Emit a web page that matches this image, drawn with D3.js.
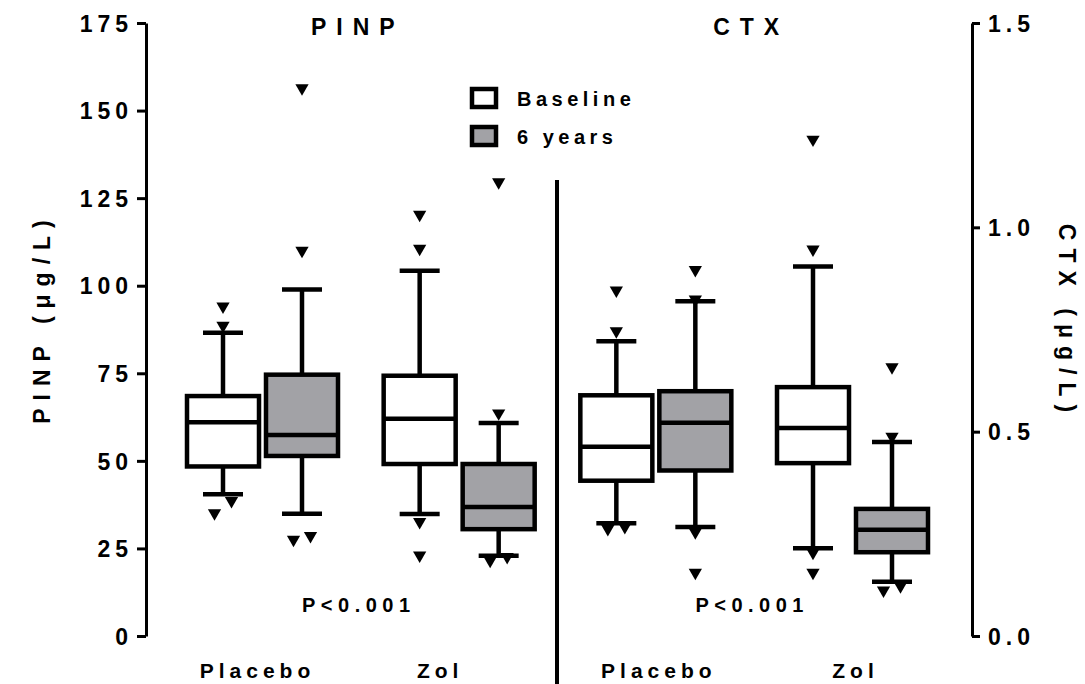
<!DOCTYPE html>
<html>
<head>
<meta charset="utf-8">
<script src="https://cdn.jsdelivr.net/npm/d3@7"></script>
<style>
  body { margin: 0; background: #fff; }
  text { font-family: "Liberation Sans", Arial, sans-serif; font-weight: bold; fill: #000; }
</style>
</head>
<body>
<div id="drawing"></div>
<script>
const width = 1085;
const height = 684;

const panels = ["PINP", "CTX"];
const groups = ["Placebo", "Zol"];
const timepoints = ["Baseline", "6 years"];

// each row: [low whisker, q1, median, q3, high whisker]
// row order: Placebo-Baseline, Placebo-6 years, Zol-Baseline, Zol-6 years
const pinpBoxes = [
  [40.5, 48.4, 61.0, 68.5, 86.6],
  [34.9, 51.4, 57.4, 74.6, 98.9],
  [34.8, 49.1, 62.0, 74.3, 104.3],
  [22.9, 30.5, 36.8, 49.1, 60.8]
];
const pinpOutliers = [
  [94.1, 88.6, 38.6, 35.1],
  [156.4, 110.0, 28.6, 27.5],
  [120.3, 110.6, 32.6, 23.0],
  [129.6, 63.6, 22.6, 21.5]
];
const ctxBoxes = [
  [0.276, 0.380, 0.463, 0.589, 0.721],
  [0.267, 0.405, 0.522, 0.599, 0.819],
  [0.215, 0.423, 0.509, 0.609, 0.904],
  [0.133, 0.205, 0.260, 0.311, 0.475]
];
const ctxOutliers = [
  [0.846, 0.746, 0.267, 0.262],
  [0.896, 0.824, 0.254, 0.155],
  [1.215, 0.946, 0.204, 0.155],
  [0.658, 0.488, 0.122, 0.112]
];

const pinpTicks = [0, 25, 50, 75, 100, 125, 150, 175];
const ctxTicks = [0, 0.5, 1.0, 1.5];
const pLabels = ["P<0.001", "P<0.001"];
const axisTitles = ["PINP (\u03bcg/L)", "CTX (\u03bcg/L)"];

const boxW = 72;
const capW = 40;
const lw = 4.5;
const grey = "#a2a2a6";
// the PINP group labels sit a little left of their boxes in the original
const labelShift = {PINP: [-8, -22], CTX: [0, 0]};

let drawing, yLeft, yRight, xGroup, xSub;

function setup() {
  drawing = d3.select("#drawing").append("svg")
    .attr("width", width)
    .attr("height", height)
    .style("background", "#fff");

  yLeft = d3.scaleLinear().domain([0, 175]).range([636, 23]);
  yRight = d3.scaleLinear().domain([0, 1.5]).range([636, 23]);

  xGroup = d3.scalePoint()
    .domain(panels.flatMap(p => groups.map(g => p + "|" + g)))
    .range([262.5, 852.5]);
  xSub = d3.scalePoint().domain(timepoints).range([-39.5, 39.5]);
}

// spread outliers that would overlap (lower one left, higher one right)
function outlierX(values, y, cx) {
  const sorted = values.slice().sort((a, b) => a - b);
  const dx = new Map();
  for (let i = 0; i < sorted.length - 1; i++) {
    if (Math.abs(y(sorted[i]) - y(sorted[i + 1])) < 13) {
      dx.set(sorted[i], -8.5);
      dx.set(sorted[i + 1], 8.5);
    }
  }
  return values.map(v => ({v: v, x: cx + (dx.get(v) || 0)}));
}

function drawPanel(panel, boxes, outliers, y) {
  const g = drawing.append("g").attr("class", "panel-" + panel);
  boxes.forEach((b, i) => {
    const grp = groups[Math.floor(i / 2)];
    const tp = timepoints[i % 2];
    const cx = xGroup(panel + "|" + grp) + xSub(tp);
    const fill = i % 2 === 0 ? "#fff" : grey;

    // whiskers
    g.append("line").attr("x1", cx).attr("x2", cx).attr("y1", y(b[0])).attr("y2", y(b[1]))
      .attr("stroke", "#000").attr("stroke-width", lw);
    g.append("line").attr("x1", cx).attr("x2", cx).attr("y1", y(b[3])).attr("y2", y(b[4]))
      .attr("stroke", "#000").attr("stroke-width", lw);
    [b[0], b[4]].forEach(v => {
      g.append("line").attr("x1", cx - capW / 2).attr("x2", cx + capW / 2)
        .attr("y1", y(v)).attr("y2", y(v))
        .attr("stroke", "#000").attr("stroke-width", lw);
    });

    // box
    g.append("rect")
      .attr("x", cx - boxW / 2).attr("width", boxW)
      .attr("y", y(b[3])).attr("height", y(b[1]) - y(b[3]))
      .attr("fill", fill).attr("stroke", "#000").attr("stroke-width", lw);
    g.append("line").attr("x1", cx - boxW / 2).attr("x2", cx + boxW / 2)
      .attr("y1", y(b[2])).attr("y2", y(b[2]))
      .attr("stroke", "#000").attr("stroke-width", lw);

    // outliers
    const tri = d3.symbol().type(d3.symbolTriangle).size(76);
    g.selectAll(null).data(outlierX(outliers[i], y, cx)).enter()
      .append("path")
      .attr("d", tri)
      .attr("transform", d => `translate(${d.x},${y(d.v)}) rotate(180)`)
      .attr("fill", "#000");
  });
}

function make() {
  drawPanel("PINP", pinpBoxes, pinpOutliers, yLeft);
  drawPanel("CTX", ctxBoxes, ctxOutliers, yRight);

  // axes
  const leftAxis = drawing.append("g")
    .attr("transform", "translate(146,0)")
    .call(d3.axisLeft(yLeft).tickValues(pinpTicks).tickSize(9).tickSizeOuter(0).tickPadding(4));
  const rightAxis = drawing.append("g")
    .attr("transform", "translate(972,0)")
    .call(d3.axisRight(yRight).tickValues(ctxTicks).tickFormat(d3.format(".1f"))
      .tickSize(8).tickSizeOuter(0).tickPadding(8));
  [leftAxis, rightAxis].forEach(ax => {
    ax.attr("font-size", null).attr("font-family", null);
    ax.selectAll("path, line").attr("stroke", "#000").attr("stroke-width", 3);
    ax.selectAll("text")
      .style("font-size", "23px")
      .style("letter-spacing", "5px")
      .attr("dy", "0.36em");
  });

  // axis titles
  drawing.append("text")
    .attr("transform", "translate(50,318) rotate(-90)")
    .attr("text-anchor", "middle")
    .style("font-size", "23px").style("letter-spacing", "8px")
    .text(axisTitles[0]);
  drawing.append("text")
    .attr("transform", "translate(1059,322) rotate(90)")
    .attr("text-anchor", "middle")
    .style("font-size", "23px").style("letter-spacing", "8px")
    .text(axisTitles[1]);

  // panel titles, p values, group labels
  panels.forEach((p, pi) => {
    const cx = (xGroup(p + "|" + groups[0]) + xGroup(p + "|" + groups[1])) / 2;
    drawing.append("text")
      .attr("x", cx - 3).attr("y", 35)
      .attr("text-anchor", "middle")
      .style("font-size", "23px").style("letter-spacing", "10px")
      .text(p);
    drawing.append("text")
      .attr("x", cx - 2).attr("y", 612)
      .attr("text-anchor", "middle")
      .style("font-size", "20px").style("letter-spacing", "5.5px")
      .text(pLabels[pi]);
    groups.forEach((g, gi) => {
      drawing.append("text")
        .attr("x", xGroup(p + "|" + g) + 3 + labelShift[p][gi]).attr("y", 678)
        .attr("text-anchor", "middle")
        .style("font-size", "21px").style("letter-spacing", "5px")
        .text(g);
    });
  });

  // divider between panels
  drawing.append("line")
    .attr("x1", 557).attr("x2", 557).attr("y1", 180).attr("y2", height)
    .attr("stroke", "#000").attr("stroke-width", 4);

  // legend
  const legend = drawing.append("g").attr("transform", "translate(472,89)");
  timepoints.forEach((t, i) => {
    legend.append("rect")
      .attr("x", 0).attr("y", i * 38)
      .attr("width", 24).attr("height", 18)
      .attr("fill", i === 0 ? "#fff" : grey)
      .attr("stroke", "#000").attr("stroke-width", lw);
    legend.append("text")
      .attr("x", 45).attr("y", i * 38 + 17)
      .style("font-size", "20px").style("letter-spacing", "4.5px")
      .text(t);
  });
}

setup();
make();
</script>
</body>
</html>
